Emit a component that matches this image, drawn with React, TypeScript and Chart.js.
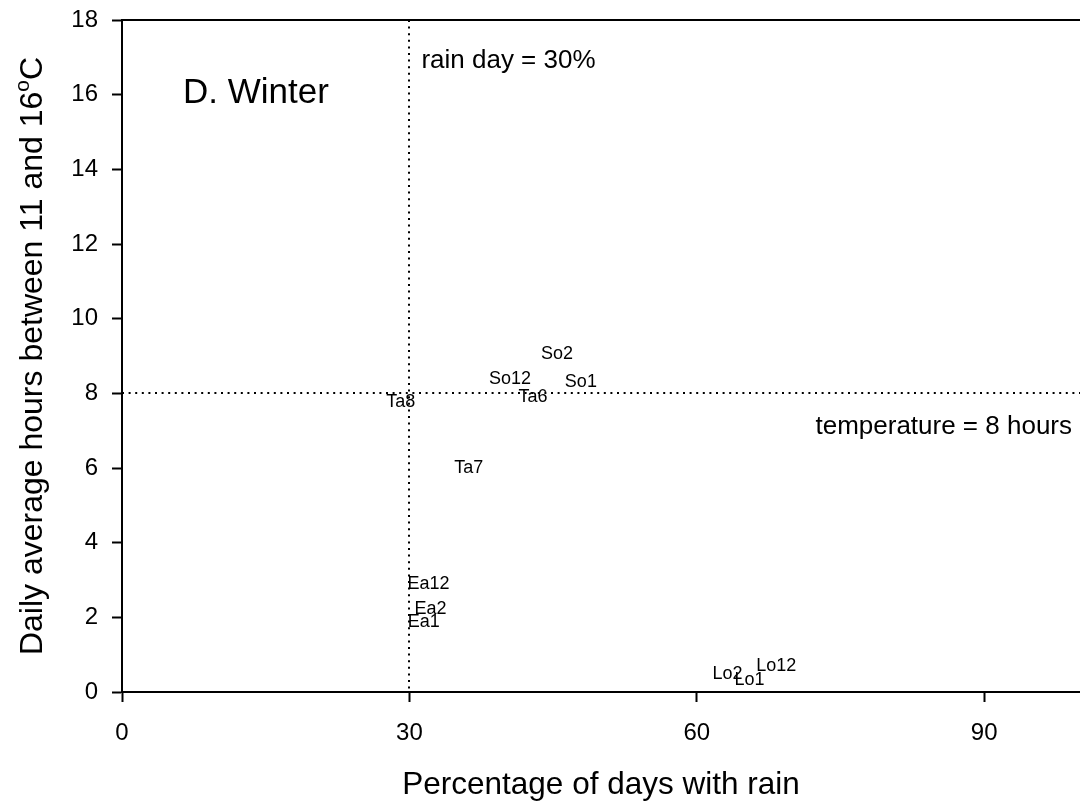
import { useEffect, useRef } from "react";
import { Chart, registerables } from "chart.js";

Chart.register(...registerables);

const FONT = '"Liberation Sans", Arial, Helvetica, sans-serif';

// Station-month labels and their coordinates
const siteLabels = ["So2", "So12", "So1", "Ta6", "Ta8", "Ta7", "Ea12", "Ea2", "Ea1", "Lo2", "Lo1", "Lo12"];
const rainDayPct = [45.4, 40.5, 47.9, 42.9, 29.1, 36.2, 32.0, 32.2, 31.5, 63.2, 65.5, 68.3];
const hoursInRange = [9.04, 8.38, 8.29, 7.9, 7.78, 6.0, 2.88, 2.22, 1.88, 0.48, 0.32, 0.7];

// Axis settings
const xTicks = [0, 30, 60, 90];
const yTicks = [0, 2, 4, 6, 8, 10, 12, 14, 16, 18];
const xMin = 0;
const xMax = 100;
const yMin = 0;
const yMax = 18;

// Reference thresholds
const rainThreshold = 30;
const tempThreshold = 8;

const panelTitle = "D. Winter";
const rainNote = "rain day = 30%";
const tempNote = "temperature = 8 hours";
const xTitle = "Percentage of days with rain";
const yTitleMain = "Daily average hours between 11 and 16";
const yTitleSup = "o";
const yTitleEnd = "C";

const overlayPlugin = {
  id: "overlay",
  beforeDatasetsDraw(chart: any) {
    const { ctx, chartArea, scales } = chart;
    const { left, right, top, bottom } = chartArea;
    ctx.save();
    // dotted threshold lines
    ctx.strokeStyle = "#000";
    ctx.lineWidth = 2;
    ctx.setLineDash([2, 4.6]);
    const xv = Math.round(scales.x.getPixelForValue(rainThreshold));
    ctx.beginPath();
    ctx.moveTo(xv, top);
    ctx.lineTo(xv, bottom);
    ctx.stroke();
    const yh = Math.round(scales.y.getPixelForValue(tempThreshold));
    ctx.beginPath();
    ctx.moveTo(left, yh);
    ctx.lineTo(right, yh);
    ctx.stroke();
    ctx.setLineDash([]);
    // top frame line
    ctx.lineWidth = 2;
    ctx.beginPath();
    ctx.moveTo(left, top);
    ctx.lineTo(right, top);
    ctx.stroke();
    ctx.restore();
  },
  afterDatasetsDraw(chart: any) {
    const { ctx, chartArea, scales } = chart;
    const meta = chart.getDatasetMeta(0);
    ctx.save();
    ctx.fillStyle = "#000";

    // point labels at each data position
    ctx.font = `18px ${FONT}`;
    ctx.textAlign = "center";
    ctx.textBaseline = "middle";
    meta.data.forEach((el: any, i: number) => {
      ctx.fillText(siteLabels[i], el.x, el.y);
    });

    // annotations
    ctx.textAlign = "left";
    ctx.textBaseline = "alphabetic";
    ctx.font = `35px ${FONT}`;
    ctx.fillText(panelTitle, chartArea.left + 61, chartArea.top + 83);

    ctx.font = `26px ${FONT}`;
    const xv = scales.x.getPixelForValue(rainThreshold);
    ctx.fillText(rainNote, xv + 12, chartArea.top + 48);
    const yh = scales.y.getPixelForValue(tempThreshold);
    ctx.textAlign = "right";
    ctx.fillText(tempNote, chartArea.right - 8, yh + 41);

    // x axis title
    ctx.textAlign = "center";
    ctx.font = `31.5px ${FONT}`;
    ctx.fillText(xTitle, (chartArea.left + chartArea.right) / 2, 794);

    // y axis title with superscript degree
    const cy = (chartArea.top + chartArea.bottom) / 2;
    ctx.translate(42, cy);
    ctx.rotate(-Math.PI / 2);
    ctx.textAlign = "left";
    ctx.font = `32px ${FONT}`;
    const w1 = ctx.measureText(yTitleMain).width;
    const w3 = ctx.measureText(yTitleEnd).width;
    ctx.font = `21px ${FONT}`;
    const w2 = ctx.measureText(yTitleSup).width;
    const total = w1 + w2 + w3;
    let x0 = -total / 2;
    ctx.font = `32px ${FONT}`;
    ctx.fillText(yTitleMain, x0, 0);
    x0 += w1;
    ctx.font = `21px ${FONT}`;
    ctx.fillText(yTitleSup, x0, -13);
    x0 += w2;
    ctx.font = `32px ${FONT}`;
    ctx.fillText(yTitleEnd, x0, 0);
    ctx.restore();
  },
};

export default function App() {
  const canvasRef = useRef<HTMLCanvasElement | null>(null);

  useEffect(() => {
    const canvas = canvasRef.current;
    if (!canvas) return;
    const points = rainDayPct.map((x, i) => ({ x, y: hoursInRange[i] }));
    const axisCommon = {
      grid: {
        display: true,
        drawOnChartArea: false,
        drawTicks: true,
        tickLength: 10,
        tickColor: "#000",
        tickWidth: 2,
      },
      border: { display: true, color: "#000", width: 2 },
    };
    const chart = new Chart(canvas, {
      type: "scatter",
      data: {
        datasets: [
          {
            data: points,
            pointRadius: 0,
            pointHoverRadius: 0,
            showLine: false,
          },
        ],
      },
      options: {
        responsive: false,
        animation: false,
        events: [],
        layout: { padding: { top: 20, right: 0, bottom: 0, left: 0 } },
        plugins: {
          legend: { display: false },
          tooltip: { enabled: false },
          title: { display: false },
        },
        scales: {
          x: {
            type: "linear",
            min: xMin,
            max: xMax,
            ...axisCommon,
            ticks: {
              color: "#000",
              font: { family: FONT, size: 24 },
              padding: 17,
              maxRotation: 0,
            },
            afterBuildTicks: (scale: any) => {
              scale.ticks = xTicks.map((v) => ({ value: v }));
            },
            afterFit: (scale: any) => {
              scale.height = 115;
              scale.paddingLeft = 0;
              scale.paddingRight = 0;
            },
          },
          y: {
            type: "linear",
            min: yMin,
            max: yMax,
            ...axisCommon,
            ticks: {
              color: "#000",
              font: { family: FONT, size: 24 },
              padding: 14,
            },
            afterBuildTicks: (scale: any) => {
              scale.ticks = yTicks.map((v) => ({ value: v }));
            },
            afterFit: (scale: any) => {
              scale.width = 122;
              scale.paddingTop = 0;
              scale.paddingBottom = 0;
            },
          },
        },
      } as any,
      plugins: [overlayPlugin],
    });
    return () => chart.destroy();
  }, []);

  return (
    <div style={{ position: "absolute", left: 0, top: 0, width: 1080, height: 807, background: "#fff" }}>
      <canvas ref={canvasRef} width={1080} height={807} />
    </div>
  );
}
